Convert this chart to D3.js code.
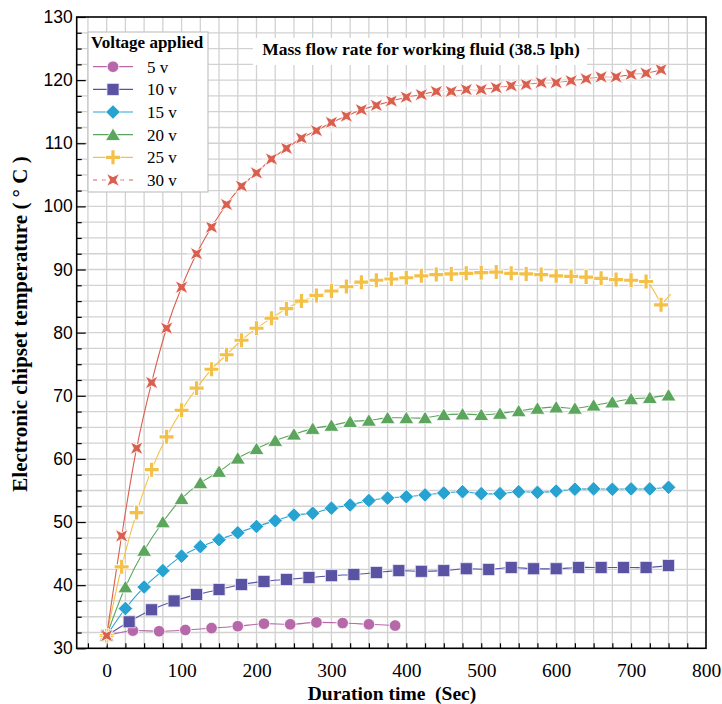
<!DOCTYPE html>
<html><head><meta charset="utf-8">
<script src="https://cdn.jsdelivr.net/npm/d3@7"></script>
<style>html,body{margin:0;padding:0;background:#fff;} text{white-space:pre;}</style>
</head><body>
<svg id="chart" width="722" height="704"></svg>
<script>
// ---- data ----
const t5  = [0,35,70,105,140,175,210,245,280,315,350,385];
const v5  = [32.0,32.8,32.7,32.9,33.2,33.5,33.9,33.8,34.1,34.0,33.8,33.6];
const t10 = [0,30,60,90,120,150,180,210,240,270,300,330,360,390,420,450,480,510,540,570,600,630,660,690,720,750];
const v10 = [32.0,34.2,36.1,37.5,38.5,39.3,40.1,40.6,40.9,41.2,41.5,41.7,42.0,42.3,42.2,42.3,42.6,42.5,42.8,42.6,42.6,42.8,42.8,42.8,42.8,43.1];
const t15 = [0,25,50,75,100,125,150,175,200,225,250,275,300,325,350,375,400,425,450,475,500,525,550,575,600,625,650,675,700,725,750];
const v15 = [32.0,36.3,39.7,42.3,44.6,46.1,47.2,48.3,49.3,50.2,51.1,51.4,52.2,52.7,53.4,53.8,54.0,54.3,54.6,54.8,54.5,54.5,54.8,54.7,54.9,55.2,55.25,55.2,55.25,55.25,55.5];
const t20 = t15;
const v20 = [32.0,39.7,45.5,50.0,53.7,56.2,58.0,60.1,61.6,62.9,63.9,64.8,65.3,65.9,66.1,66.5,66.5,66.5,67.0,67.1,67.0,67.2,67.6,68.0,68.2,68.0,68.5,69.0,69.5,69.7,70.1];
const t25 = [0,20,40,60,80,100,120,140,160,180,200,220,240,260,280,300,320,340,360,380,400,420,440,460,480,500,520,540,560,580,600,620,640,660,680,700,720,740];
const v25 = [32.0,42.9,51.5,58.3,63.5,67.7,71.2,74.2,76.5,78.8,80.7,82.3,83.8,85.0,85.9,86.6,87.3,88.0,88.3,88.5,88.7,89.0,89.2,89.3,89.4,89.5,89.6,89.4,89.3,89.2,89.0,88.9,88.8,88.6,88.4,88.3,88.1,84.4];
const t30 = t25;
const v30 = [32.0,47.8,61.7,72.1,80.7,87.2,92.5,96.7,100.3,103.2,105.3,107.5,109.2,110.8,112.0,113.3,114.3,115.3,116.0,116.7,117.3,117.7,118.2,118.2,118.5,118.5,118.8,119.1,119.3,119.6,119.6,119.9,120.2,120.5,120.5,120.9,121.1,121.65];
// line-only end segments (no marker)
const tail25 = [740, 753];
const tailV25 = [84.4, 86.1];

const seriesNames = ["5 v","10 v","15 v","20 v","25 v","30 v"];
const seriesT = [t5,t10,t15,t20,t25,t30];
const seriesV = [v5,v10,v15,v20,v25,v30];
const colors = ["#b768a9","#5a53a4","#27a3d2","#5ba55d","#f3c147","#d9604f"];
const markerKinds = ["circle","square","diamond","triangle","plus","star"];

const xTicks = [0,100,200,300,400,500,600,700,800];
const yTicks = [30,40,50,60,70,80,90,100,110,120,130];

const titleText = "Mass flow rate for working fluid (38.5 lph)";
const xTitle = "Duration time  (Sec)";
const yTitle = "Electronic chipset temperature ( \u00B0 C )";
const legendTitle = "Voltage applied";

// ---- layout ----
const svg = d3.select("#chart");
const L = 76.7, R = 706, T = 17, B = 648.3;
const x = d3.scaleLinear().domain([-40,800]).range([L,R]);
const y = d3.scaleLinear().domain([30,130]).range([B,T]);
const serif = "'Liberation Serif','Times New Roman',serif";
const sans = "'Liberation Sans',Arial,sans-serif";

// grid
const gx = d3.range(-25, 800, 25);
const gy = d3.range(32.5, 130, 2.5);
const grid = svg.append("g");
grid.selectAll("line.vx").data(gx).join("line")
  .attr("x1", d=>x(d)).attr("x2", d=>x(d)).attr("y1", T).attr("y2", B)
  .attr("stroke", "#d2d2d2").attr("stroke-width", 1.3);
grid.selectAll("line.hy").data(gy).join("line")
  .attr("y1", d=>y(d)).attr("y2", d=>y(d)).attr("x1", L).attr("x2", R)
  .attr("stroke", "#d2d2d2").attr("stroke-width", 1.3);

// axes
const xAxis = d3.axisBottom(x).tickValues(d3.range(-25,800,25)).tickSize(-5).tickFormat("");
svg.append("g").attr("transform", `translate(0,${B})`).call(xAxis)
  .call(g=>g.select(".domain").remove())
  .call(g=>g.selectAll(".tick line").attr("stroke","#000").attr("stroke-width",1.2));
const xLab = d3.axisBottom(x).tickValues(xTicks).tickSize(0).tickPadding(15);
svg.append("g").attr("transform", `translate(0,${B})`).call(xLab)
  .call(g=>g.select(".domain").remove())
  .call(g=>g.selectAll("text").attr("font-family", serif).attr("font-size", 19.5).attr("fill","#000"));

const yMinor = d3.axisLeft(y).tickValues(d3.range(32.5,130,2.5).filter(d=>d%10!==0)).tickSize(-5).tickFormat("");
svg.append("g").attr("transform", `translate(${L},0)`).call(yMinor)
  .call(g=>g.select(".domain").remove())
  .call(g=>g.selectAll(".tick line").attr("stroke","#000").attr("stroke-width",1.2));
const yMajor = d3.axisLeft(y).tickValues(yTicks).tickSize(-9).tickPadding(7).tickFormat(d3.format("d"));
svg.append("g").attr("transform", `translate(${L},0)`).call(yMajor)
  .call(g=>g.select(".domain").remove())
  .call(g=>g.selectAll(".tick line").attr("stroke","#000").attr("stroke-width",1.2))
  .call(g=>g.selectAll("text").attr("font-family", sans).attr("font-size", 17.5).attr("fill","#000").attr("x",-4));

// frame
svg.append("rect").attr("x",L).attr("y",T).attr("width",R-L).attr("height",B-T)
  .attr("fill","none").attr("stroke","#000").attr("stroke-width",1.6);

// axis titles
svg.append("text").attr("x", 392).attr("y", 700).attr("text-anchor","middle")
  .attr("font-family", serif).attr("font-weight","bold").attr("font-size",19.5).text(xTitle);
svg.append("text").attr("transform","translate(27,324) rotate(-90)").attr("text-anchor","middle")
  .attr("font-family", serif).attr("font-weight","bold").attr("font-size",21).text(yTitle);

// marker drawing
function star4(r){
  const ri = r*0.36;
  const pts = [];
  for(let i=0;i<8;i++){
    const a = Math.PI/4 + i*Math.PI/4;
    const rr = (i%2===0)? r : ri;
    pts.push([rr*Math.cos(a), rr*Math.sin(a)]);
  }
  return "M"+pts.map(p=>p.join(",")).join("L")+"Z";
}
function drawMarker(g, kind, color){
  if(kind==="circle"){
    g.append("circle").attr("r",5.8).attr("fill",color).attr("stroke","#fff").attr("stroke-width",0.8);
  } else if(kind==="square"){
    g.append("rect").attr("x",-6).attr("y",-6).attr("width",12).attr("height",12)
      .attr("fill",color).attr("stroke","#e6e6f2").attr("stroke-width",0.8);
  } else if(kind==="diamond"){
    g.append("path").attr("d","M0,-7.3L7.3,0L0,7.3L-7.3,0Z").attr("fill",color).attr("stroke","#fff").attr("stroke-width",0.8);
  } else if(kind==="triangle"){
    g.append("path").attr("d","M0,-6.8L7.5,5.8L-7.5,5.8Z").attr("fill",color).attr("stroke","#fff").attr("stroke-width",0.8);
  } else if(kind==="plus"){
    g.append("path").attr("d","M-7.5,0H7.5M0,-7.5V7.5").attr("stroke","#fff").attr("stroke-width",5).attr("fill","none");
    g.append("path").attr("d","M-7,0H7M0,-7V7").attr("stroke",color).attr("stroke-width",3.2).attr("fill","none");
  } else if(kind==="star"){
    g.append("path").attr("d","M-10,0H10M0,-10V10").attr("stroke","#fff").attr("stroke-width",0.8).attr("opacity",0.9);
    g.append("path").attr("d",star4(9)).attr("fill",color).attr("stroke","#fff").attr("stroke-width",0.8);
  }
}

const lineGen = d3.line().x(d=>x(d[0])).y(d=>y(d[1])).curve(d3.curveCatmullRom.alpha(0.5));

// series lines
const plot = svg.append("g");
seriesT.forEach((ts,i)=>{
  const pts = ts.map((t,j)=>[t, seriesV[i][j]]);
  plot.append("path").attr("d", lineGen(pts)).attr("fill","none")
    .attr("stroke", colors[i]).attr("stroke-width", 1.1);
});
plot.append("path").attr("d", d3.line().x(d=>x(d[0])).y(d=>y(d[1]))(tail25.map((t,j)=>[t,tailV25[j]])))
  .attr("fill","none").attr("stroke",colors[4]).attr("stroke-width",1.1);
// markers
seriesT.forEach((ts,i)=>{
  ts.forEach((t,j)=>{
    const g = plot.append("g").attr("transform",`translate(${x(t)},${y(seriesV[i][j])})`);
    drawMarker(g, markerKinds[i], colors[i]);
  });
});

// title box
svg.append("rect").attr("x",253).attr("y",38).attr("width",334).attr("height",27).attr("fill","#fff");
svg.append("text").attr("x",421).attr("y",55).attr("text-anchor","middle")
  .attr("font-family", serif).attr("font-weight","bold").attr("font-size",17.5).text(titleText);

// legend
const lg = svg.append("g");
lg.append("rect").attr("x",88).attr("y",32).attr("width",120).attr("height",160)
  .attr("fill","#fff").attr("stroke","#c4c4c4").attr("stroke-width",1.2);
lg.append("text").attr("x",91).attr("y",48).attr("font-family",serif).attr("font-weight","bold")
  .attr("font-size",17).text(legendTitle);
seriesNames.forEach((nm,i)=>{
  const cy = 66.7 + i*22.66;
  lg.append("line").attr("x1",93).attr("x2",133).attr("y1",cy).attr("y2",cy)
    .attr("stroke",colors[i]).attr("stroke-width",1.2).attr("stroke-dasharray", i===5 ? "4,5" : null);
  const g = lg.append("g").attr("transform",`translate(113,${cy})`);
  drawMarker(g, markerKinds[i], colors[i]);
  lg.append("text").attr("x",147).attr("y",cy+6).attr("font-family",serif).attr("font-size",17).text(nm);
});
</script>
</body></html>
